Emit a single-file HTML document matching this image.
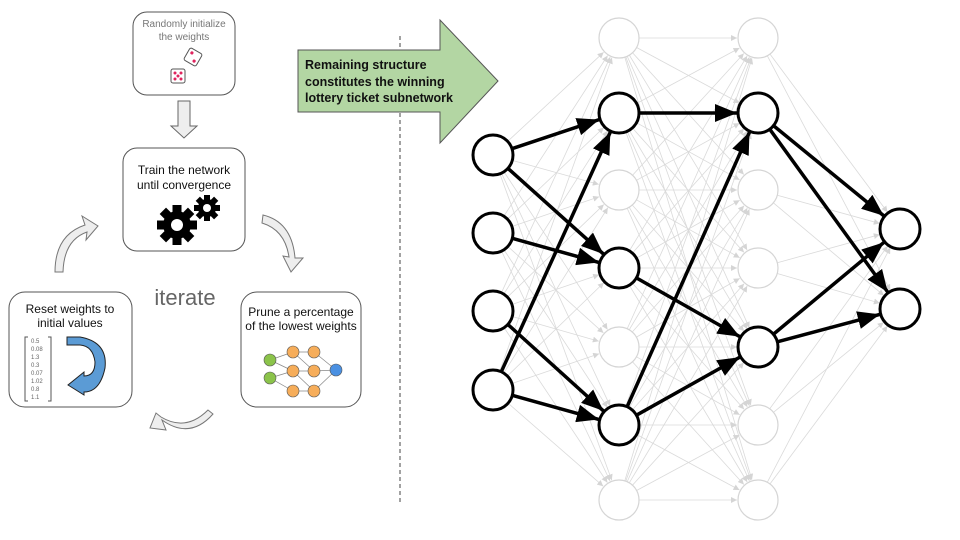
<!DOCTYPE html>
<html><head><meta charset="utf-8"><style>
html,body{margin:0;padding:0;background:#fff;}
svg{display:block;font-family:"Liberation Sans",Arial,sans-serif;}
</style></head><body>
<svg id="s" width="960" height="540" viewBox="0 0 960 540" xmlns="http://www.w3.org/2000/svg">
<defs>
<marker id="ag" markerWidth="6" markerHeight="6" refX="6" refY="3" orient="auto" markerUnits="userSpaceOnUse"><path d="M0,0 L6,3 L0,6 z" fill="#d5d5d5"/></marker>
<marker id="ab" markerWidth="22" markerHeight="18" refX="22" refY="9" orient="auto" markerUnits="userSpaceOnUse"><path d="M0,0 L22,9 L0,18 z" fill="#000"/></marker>
</defs>
<rect x="133" y="12" width="102" height="83" rx="14" fill="#fff" stroke="#555" stroke-width="1"/>
<text x="184" y="27" font-size="10" fill="#777" text-anchor="middle">Randomly initialize</text>
<text x="184" y="40" font-size="10" fill="#777" text-anchor="middle">the weights</text>
<g transform="translate(193,57) rotate(30)"><rect x="-7" y="-7" width="14" height="14" rx="2" fill="#fff" stroke="#555"/><circle cx="-3" cy="-3" r="1.6" fill="#e0245e"/><circle cx="3" cy="3" r="1.6" fill="#e0245e"/></g>
<g transform="translate(178,76)"><rect x="-7" y="-7" width="14" height="14" rx="2" fill="#fff" stroke="#555"/><circle cx="-3" cy="-3" r="1.5" fill="#e0245e"/><circle cx="3" cy="-3" r="1.5" fill="#e0245e"/><circle cx="0" cy="0" r="1.5" fill="#e0245e"/><circle cx="-3" cy="3" r="1.5" fill="#e0245e"/><circle cx="3" cy="3" r="1.5" fill="#e0245e"/></g>
<path d="M178,101 H190 V126 H197 L184,138 L171,126 H178 Z" fill="#eee" stroke="#666"/>
<rect x="123" y="148" width="122" height="103" rx="14" fill="#fff" stroke="#555"/>
<text x="184" y="174" font-size="12" fill="#111" text-anchor="middle">Train the network</text>
<text x="184" y="189" font-size="12" fill="#111" text-anchor="middle">until convergence</text>
<g fill="#000">
<circle cx="177" cy="225" r="14"/>
<g transform="translate(177,225)"><rect x="-4.5" y="-20" width="9" height="40"/><rect x="-20" y="-4.5" width="40" height="9"/><rect x="-4.5" y="-20" width="9" height="40" transform="rotate(45)"/><rect x="-4.5" y="-20" width="9" height="40" transform="rotate(-45)"/></g>
<circle cx="177" cy="225" r="6" fill="#fff"/>
<circle cx="207" cy="208" r="9"/>
<g transform="translate(207,208)"><rect x="-3" y="-13" width="6" height="26"/><rect x="-13" y="-3" width="26" height="6"/><rect x="-3" y="-13" width="6" height="26" transform="rotate(45)"/><rect x="-3" y="-13" width="6" height="26" transform="rotate(-45)"/></g>
<circle cx="207" cy="208" r="4" fill="#fff"/>
</g>
<path d="M55,272 Q55,235 85,225 L82,216 L98,226 L86,240 L87,232 Q64,240 63,272 Z" fill="#eee" stroke="#777"/>
<path d="M263,215 Q292,222 295,258 L303,258 L291,272 L283,256 L289,257 Q285,230 262,223 Z" fill="#eee" stroke="#777"/>
<path d="M213,414 Q190,440 162,420 L166,430 L150,428 L156,413 L161,417 Q186,432 208,410 Z" fill="#eee" stroke="#777"/>
<text x="185" y="305" font-size="22" fill="#666" text-anchor="middle">iterate</text>
<rect x="9" y="292" width="123" height="115" rx="16" fill="#fff" stroke="#555"/>
<text x="70" y="313" font-size="12" fill="#111" text-anchor="middle">Reset weights to</text>
<text x="70" y="327" font-size="12" fill="#111" text-anchor="middle">initial values</text>
<path d="M28,337 H25 V401 H28 M48,337 H51 V401 H48" fill="none" stroke="#555"/>
<g font-size="6" fill="#666"><text x="31" y="343">0.5</text><text x="31" y="351">0.08</text><text x="31" y="359">1.3</text><text x="31" y="367">0.3</text><text x="31" y="375">0.07</text><text x="31" y="383">1.02</text><text x="31" y="391">0.8</text><text x="31" y="399">1.1</text></g>
<path d="M67,337 H80 Q108,342 105,368 Q100,392 84,392 V395 L68,385 L84,372 V376 Q95,376 95,362 Q93,346 80,345 H67 Z" fill="#5b9bd5" stroke="#222"/>
<rect x="241" y="292" width="120" height="115" rx="16" fill="#fff" stroke="#555"/>
<text x="301" y="316" font-size="12" fill="#111" text-anchor="middle">Prune a percentage</text>
<text x="301" y="330" font-size="12" fill="#111" text-anchor="middle">of the lowest weights</text>
<g stroke="#888" stroke-width="0.7">
<line x1="270" y1="360" x2="293" y2="352"/><line x1="270" y1="378" x2="293" y2="371"/><line x1="270" y1="378" x2="293" y2="391"/><line x1="270" y1="360" x2="293" y2="371"/>
<line x1="293" y1="352" x2="314" y2="352"/><line x1="293" y1="371" x2="314" y2="371"/><line x1="293" y1="391" x2="314" y2="391"/><line x1="293" y1="352" x2="314" y2="371"/><line x1="293" y1="371" x2="314" y2="391"/>
<line x1="314" y1="352" x2="336" y2="370"/><line x1="314" y1="371" x2="336" y2="370"/><line x1="314" y1="391" x2="336" y2="370"/>
</g>
<g stroke="#555" stroke-width="0.6">
<circle cx="270" cy="360" r="6" fill="#8bc34a"/><circle cx="270" cy="378" r="6" fill="#8bc34a"/>
<circle cx="293" cy="352" r="6" fill="#f6ad5a"/><circle cx="293" cy="371" r="6" fill="#f6ad5a"/><circle cx="293" cy="391" r="6" fill="#f6ad5a"/>
<circle cx="314" cy="352" r="6" fill="#f6ad5a"/><circle cx="314" cy="371" r="6" fill="#f6ad5a"/><circle cx="314" cy="391" r="6" fill="#f6ad5a"/>
<circle cx="336" cy="370" r="6" fill="#4a90e2"/>
</g>
<line x1="400" y1="36" x2="400" y2="502" stroke="#444" stroke-dasharray="4,3"/>
<path d="M298,50 H440 V20 L498,81 L440,143 V112 H298 Z" fill="#b3d6a3" stroke="#555"/>
<g font-size="12.5" font-weight="bold" fill="#111"><text x="305" y="69">Remaining structure</text><text x="305" y="86">constitutes the winning</text><text x="305" y="102">lottery ticket subnetwork</text></g>
<g id="gray"></g><g id="bold"></g><g id="nodes"></g>
</svg>
<script>
var NS="http://www.w3.org/2000/svg";
var L=[[493,[155,233,311,390]],[619,[38,113,190,268,347,425,500]],[758,[38,113,190,268,347,425,500]],[900,[229,309]]];
var R=20;
function ln(g,a,b,cls,w,m){var dx=b[0]-a[0],dy=b[1]-a[1],d=Math.hypot(dx,dy),ux=dx/d,uy=dy/d;
var e=document.createElementNS(NS,"line");e.setAttribute("x1",a[0]+ux*R);e.setAttribute("y1",a[1]+uy*R);e.setAttribute("x2",b[0]-ux*(R+1));e.setAttribute("y2",b[1]-uy*(R+1));e.setAttribute("stroke",cls);e.setAttribute("stroke-width",w);e.setAttribute("marker-end","url(#"+m+")");document.getElementById(g).appendChild(e);}
for(var i=0;i<3;i++)for(var a=0;a<L[i][1].length;a++)for(var b=0;b<L[i+1][1].length;b++)ln("gray",[L[i][0],L[i][1][a]],[L[i+1][0],L[i+1][1][b]],"#dadada",0.8,"ag");
var B=[[0,0,1],[0,0,3],[0,1,3],[0,2,5],[0,3,1],[0,3,5],[1,1,1],[1,3,4],[1,5,1],[1,5,4],[2,1,0],[2,1,1],[2,4,0],[2,4,1]];
B.forEach(function(t){ln("bold",[L[t[0]][0],L[t[0]][1][t[1]]],[L[t[0]+1][0],L[t[0]+1][1][t[2]]],"#000",3.5,"ab");});
var bold={"0":[0,1,2,3],"1":[1,3,5],"2":[1,4],"3":[0,1]};
for(var i=0;i<4;i++)for(var k=0;k<L[i][1].length;k++){var c=document.createElementNS(NS,"circle");var bo=bold[i].indexOf(k)>=0;
c.setAttribute("cx",L[i][0]);c.setAttribute("cy",L[i][1][k]);c.setAttribute("r",R);c.setAttribute("fill",bo?"#fff":"#fff");c.setAttribute("stroke",bo?"#000":"#d5d5d5");c.setAttribute("stroke-width",bo?3:1.2);document.getElementById("nodes").appendChild(c);}
</script>
</body></html>
